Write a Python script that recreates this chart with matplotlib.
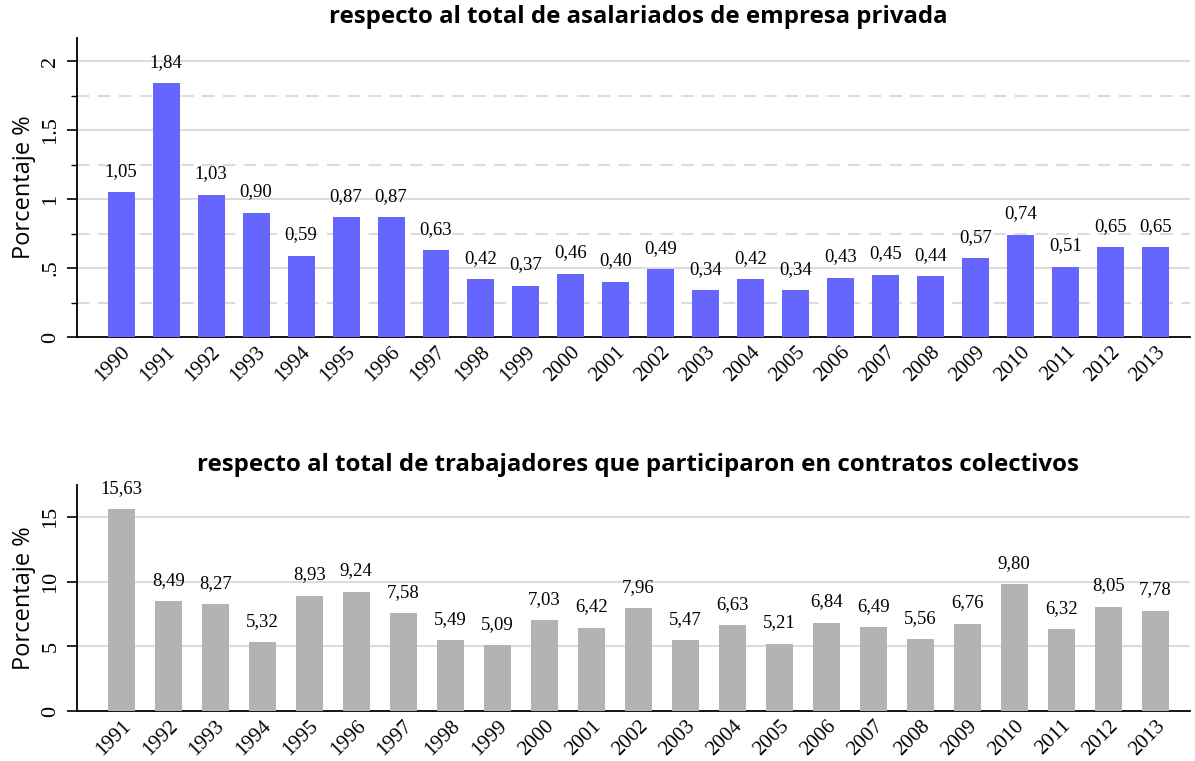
import matplotlib
matplotlib.use("Agg")
import matplotlib.pyplot as plt
from matplotlib.ticker import FixedLocator

years_top = list(range(1990, 2014))
vals_top = [1.05, 1.84, 1.03, 0.90, 0.59, 0.87, 0.87, 0.63, 0.42, 0.37, 0.46, 0.40,
            0.49, 0.34, 0.42, 0.34, 0.43, 0.45, 0.44, 0.57, 0.74, 0.51, 0.65, 0.65]
years_bot = list(range(1991, 2014))
vals_bot = [15.63, 8.49, 8.27, 5.32, 8.93, 9.24, 7.58, 5.49, 5.09, 7.03, 6.42, 7.96,
            5.47, 6.63, 5.21, 6.84, 6.49, 5.56, 6.76, 9.80, 6.32, 8.05, 7.78]
title_top = "respecto al total de asalariados de empresa privada"
title_bot = "respecto al total de trabajadores que participaron en contratos colectivos"
ylabel = "Porcentaje %"

serif = ["Liberation Serif", "DejaVu Serif"]
sans = ["Open Sans", "DejaVu Sans"]

fig = plt.figure(figsize=(11.95, 7.61), dpi=100)
ax1 = fig.add_axes([77/1195, 1-337/761, (1190-77)/1195, (337-38)/761])
ax2 = fig.add_axes([77/1195, 1-711/761, (1190-77)/1195, (711-485)/761])

def style(ax, years, vals, color, ylim, xlim, majors, majlabels, minors, width):
    x = list(range(len(years)))
    ax.bar(x, vals, width=width, color=color, zorder=3)
    for xi, v in zip(x, vals):
        ax.annotate(f"{v:.2f}".replace(".", ","), (xi, v), xytext=(0, 9),
                    textcoords="offset points", ha="center", va="bottom",
                    fontsize=13.5, family=serif, zorder=4)
    ax.set_xlim(*xlim)
    ax.set_ylim(*ylim)
    ax.set_xticks(x)
    ax.set_xticklabels([str(y) for y in years], rotation=45, ha="right",
                       rotation_mode="anchor", fontsize=15, family=serif)
    ax.yaxis.set_major_locator(FixedLocator(majors))
    ax.set_yticklabels(majlabels, rotation=90, va="center", fontsize=16, family=serif)
    for m in majors:
        if m > 0:
            ax.axhline(m, color="#dcdcdc", lw=1.5, zorder=1)
    if minors:
        ax.yaxis.set_minor_locator(FixedLocator(minors))
        for m in minors:
            ax.axhline(m, color="#dcdcdc", lw=1.5, ls=(0, (6, 4)), zorder=1)
        ax.tick_params(axis="y", which="minor", length=4, width=1)
    ax.tick_params(axis="y", which="major", length=7, width=1.2, pad=5)
    ax.tick_params(axis="x", length=0, pad=4)
    for s in ["top", "right"]:
        ax.spines[s].set_visible(False)
    ax.spines["left"].set_linewidth(1.3)
    ax.spines["bottom"].set_linewidth(1.3)
    ax.set_ylabel(ylabel, fontsize=17, family=sans, labelpad=4)

style(ax1, years_top, vals_top, "#6666ff", (0, 2.17), (-0.98, 23.76),
      [0, 0.5, 1, 1.5, 2], ["0", ".5", "1", "1.5", "2"], [0.25, 0.75, 1.25, 1.75], 0.6)
style(ax2, years_bot, vals_bot, "#b3b3b3", (0, 17.5), (-0.94, 22.74),
      [0, 5, 10, 15], ["0", "5", "10", "15"], None, 0.57)

fig.text(638/1195, 1-17/761, title_top, ha="center", va="center",
         fontsize=17.3, fontweight="bold", family=sans)
fig.text(638/1195, 1-465/761, title_bot, ha="center", va="center",
         fontsize=17.3, fontweight="bold", family=sans)

fig.savefig("out.png", dpi=100, facecolor="white")
